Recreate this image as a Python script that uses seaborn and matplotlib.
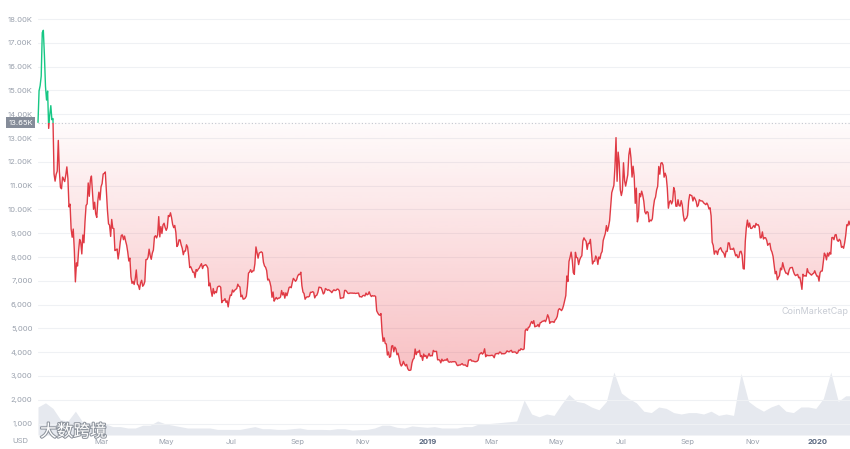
import numpy as np
import pandas as pd
import matplotlib
matplotlib.use("Agg")
import matplotlib.pyplot as plt
import matplotlib.dates as mdates
import matplotlib.patheffects as pe
from matplotlib.patches import PathPatch, Rectangle
import seaborn as sns

# BTC daily close (USD)
price_2018 = [
    13657, 14982, 15201, 15599, 17429, 17527, 16477, 15170, 14595, 14973, 13405, 13980, 14360, 13772, 13819, 11490,
    11188, 11474, 11607, 12899, 11601, 10931, 10868, 11359, 11259, 11171, 11441, 11787, 11296, 10106, 10221,
    9170, 8830, 9174, 8277, 6955, 7754, 7621, 8265, 8736, 8621, 8129, 8926, 8598, 9494, 10166, 10233, 11112,
    10551, 11225, 11403, 10690, 10005, 10301, 9813, 9664, 10366, 10725, 10397,
    10951, 11086, 11489, 11512, 11573, 10779, 9965, 9395, 9337, 8866, 9578, 9205, 9194, 8269, 8300, 8338, 7916,
    8223, 8630, 8913, 8929, 8728, 8879, 8668, 8495, 8209, 7833, 7954, 7165, 6891, 6973,
    6845, 7083, 7456, 6854, 6811, 6636, 6911, 7023, 6770, 6834, 6968, 7889, 7895, 7986, 8329, 8058, 7902, 8163,
    8294, 8845, 8895, 8802, 8930, 9697, 8845, 9281, 8987, 9348, 9419, 9240,
    9119, 9235, 9744, 9700, 9858, 9654, 9373, 9234, 9325, 9043, 8441, 8505, 8723, 8716, 8510, 8368, 8095, 8250,
    8248, 8513, 8418, 8041, 7557, 7587, 7480, 7355, 7368, 7135, 7472, 7406, 7494,
    7541, 7643, 7720, 7514, 7633, 7653, 7678, 7624, 7531, 6786, 6906, 6582, 6349, 6675, 6456, 6550, 6500, 6734,
    6769, 6776, 6729, 6083, 6162, 6174, 6249, 6093, 6157, 5903, 6218, 6404,
    6385, 6614, 6529, 6597, 6639, 6673, 6857, 6773, 6741, 6329, 6394, 6228, 6239, 6276, 6359, 6741, 7321, 7370,
    7466, 7354, 7419, 7418, 7711, 8424, 8181, 7951, 8165, 8192, 8218, 8180, 7780,
    7624, 7567, 7434, 7032, 7068, 6951, 6753, 6306, 6529, 6144, 6232, 6301, 6230, 6274, 6275, 6322, 6592, 6405,
    6502, 6270, 6492, 6373, 6535, 6719, 6743, 6707, 6927, 7102, 7047, 6978, 7037,
    7193, 7272, 7260, 7361, 6793, 6529, 6467, 6225, 6300, 6329, 6321, 6351, 6517, 6512, 6543, 6517, 6281, 6371,
    6398, 6519, 6734, 6721, 6710, 6595, 6446, 6495, 6676, 6644, 6601, 6625,
    6589, 6556, 6502, 6576, 6622, 6588, 6602, 6653, 6642, 6585, 6256, 6274, 6285, 6290, 6596, 6596, 6544, 6476,
    6465, 6489, 6482, 6487, 6475, 6484, 6468, 6472, 6480, 6486, 6332, 6334, 6317,
    6377, 6389, 6361, 6485, 6411, 6436, 6538, 6410, 6339, 6376, 6359, 6371, 6339, 5738, 5649, 5575, 5554, 5624,
    4871, 4451, 4602, 4365, 4347, 3880, 4009, 3779, 3820, 4257, 4278, 4017,
    4214, 4139, 3894, 3956, 3753, 3521, 3419, 3476, 3614, 3502, 3424, 3486, 3313, 3242, 3236, 3252, 3545, 3696,
    3745, 4134, 3896, 4014, 3998, 4078, 3815, 3857, 3654, 3923, 3820, 3865, 3742,
]
price_2019 = [
    3843, 3943, 3837, 3858, 3846, 4076, 4025, 4030, 4035, 3678, 3687, 3661, 3553, 3706, 3630, 3655, 3678, 3658,
    3728, 3601, 3577, 3598, 3583, 3600, 3599, 3603, 3583, 3468, 3434, 3463, 3458,
    3487, 3521, 3464, 3459, 3466, 3413, 3399, 3666, 3673, 3690, 3625, 3632, 3616, 3599, 3602, 3618, 3667, 3899,
    3941, 3985, 3917, 3977, 4143, 3810, 3883, 3854, 3859, 3855,
    3862, 3873, 3843, 3767, 3924, 3935, 3949, 3927, 4003, 3998, 3926, 3943, 3932, 3943, 3983, 4057, 4026, 4013,
    4055, 4079, 3992, 4006, 4011, 4002, 3947, 3972, 4087, 4068, 4147, 4117, 4106,
    4140, 4902, 4978, 4913, 5045, 5060, 5198, 5290, 5207, 5325, 5064, 5089, 5096, 5167, 5067, 5236, 5251, 5298,
    5303, 5338, 5281, 5399, 5573, 5464, 5210, 5280, 5268, 5285, 5248, 5351,
    5402, 5505, 5768, 5831, 5795, 5747, 5830, 5982, 6175, 6379, 7204, 6972, 7815, 7994, 8206, 7884, 7344, 7271,
    8198, 7979, 7963, 7681, 7881, 7987, 8052, 8673, 8805, 8719, 8659, 8320, 8575,
    8564, 8742, 8209, 7707, 7824, 7822, 8043, 7954, 7688, 8000, 7927, 8145, 8231, 8693, 8838, 8994, 9320, 9082,
    9274, 9527, 10144, 10701, 10855, 11011, 11790, 13017, 11182, 12407, 11959, 10817,
    10583, 10801, 11961, 11216, 10979, 11208, 11450, 12285, 12573, 12156, 11358, 11815, 11392, 10256, 10895, 9477,
    9693, 10666, 10530, 10767, 10599, 10343, 9900, 9811, 9911, 9870, 9477, 9552, 9519, 9607, 10085,
    10399, 10518, 10821, 10970, 11805, 11479, 11941, 11966, 11862, 11354, 11523, 11382, 10895, 10051, 10311, 10374,
    10231, 10345, 10918, 10764, 10138, 10131, 10407, 10160, 10139, 10370, 10185, 9754, 9510, 9598, 9630,
    9757, 10346, 10623, 10594, 10575, 10353, 10517, 10441, 10334, 10115, 10178, 10410, 10360, 10358, 10347, 10276,
    10241, 10199, 10267, 10181, 10019, 10070, 9729, 8620, 8486, 8118, 8251, 8245, 8104, 8294,
    8343, 8393, 8260, 8205, 8151, 7989, 8245, 8229, 8596, 8586, 8321, 8336, 8321, 8374, 8205, 8047, 8103, 7973,
    7988, 8222, 8243, 8078, 7514, 7493, 8660, 9244, 9551, 9256, 9427, 9205, 9199,
    9261, 9324, 9235, 9412, 9342, 9360, 9267, 8804, 8813, 9055, 8757, 8815, 8808, 8708, 8491, 8550, 8577, 8309,
    8206, 8027, 7642, 7296, 7397, 7047, 7146, 7218, 7531, 7463, 7761, 7569,
    7424, 7321, 7320, 7252, 7448, 7546, 7556, 7564, 7400, 7278, 7217, 7243, 7269, 7124, 7152, 6932, 6640, 7276,
    7202, 7219, 7191, 7511, 7355, 7322, 7275, 7238, 7290, 7317, 7422, 7292, 7194,
]
price_2020 = [
    7200, 6985, 7345, 7411, 7411, 7769, 8163, 8080, 7880, 8166, 8038, 8193, 8119, 8813, 8822, 8726, 8929, 8942,
    8707, 8657, 8745, 8681, 8407, 8445, 8368, 8597, 8910, 9358, 9316, 9508, 9350,
]

# weekly volume (billion USD), weeks starting 2018-01-01
volume_2018 = [20, 23, 19, 11, 10, 17, 9, 9, 7, 8, 6, 6, 5, 5, 7, 7, 10, 8, 7, 6, 5, 5, 5, 5, 4, 4, 4, 4, 5, 6,
               4.5, 4.5, 4, 4, 4.5, 5, 4, 4, 4, 3.8, 4.5, 4.5, 3.5, 3.8, 4, 5, 7, 7, 5.5, 5, 6.5, 6, 5.5]
volume_2019 = [6, 5, 5, 5, 6, 6, 8, 8, 8.5, 9, 9.5, 10, 25, 15, 13, 15, 14, 22, 29, 24, 23, 20, 18, 24, 45, 30,
               26, 23, 17, 16, 20, 19, 16, 15, 16, 16, 15, 17, 14, 15, 14, 44, 24, 20, 17, 20, 22, 17, 16, 20, 20, 19]
volume_2020 = [26, 45, 24, 28, 28]

base_price = 13650
y_ticks = list(range(1000, 19000, 1000))
x_ticks = pd.date_range("2018-03-01", "2020-01-01", freq="2MS")

RED = "#e03a44"
GREEN = "#16c784"
GRAY = "#9aa1ad"

price = np.array(price_2018 + price_2019 + price_2020, dtype=float)
dates = pd.date_range("2018-01-01", periods=len(price), freq="D")
volume = np.array(volume_2018 + volume_2019 + volume_2020, dtype=float)
vol_dates = pd.date_range("2018-01-01", periods=len(volume), freq="7D")
df = pd.DataFrame({"date": dates, "price": price})

sns.set_theme(style="white")
plt.rcParams["font.family"] = ["Inter", "Noto Sans CJK SC", "DejaVu Sans"]

fig = plt.figure(figsize=(8.5, 4.49), dpi=100)
ax = fig.add_axes([38 / 850, 14 / 449, 812 / 850, 425 / 449])
ax2 = ax.twinx()
ax.set_zorder(2)
ax2.set_zorder(1)
ax.patch.set_visible(False)

ymin, ymax = 520, 18380
x0, x1 = mdates.date2num(dates[0]), mdates.date2num(pd.Timestamp("2020-01-31"))

# volume area
ax2.fill_between(vol_dates, volume, 0, color="#e6e9ef", lw=0)
ax2.set_ylim(0, 45 * 425 / 63)
ax2.axis("off")

# gradient fill between the price and the reference line
lower = np.minimum(price, base_price)
poly = ax.fill_between(dates, lower, base_price, color="none", lw=0)
clip = PathPatch(poly.get_paths()[0], transform=ax.transData, facecolor="none", edgecolor="none")
ax.add_patch(clip)
yy = np.linspace(ymin, base_price, 256)
alpha = np.clip(0.02 + 0.30 * (base_price - yy) / (base_price - 3000), 0, 0.4)
rgb = matplotlib.colors.to_rgb("#ea3943")
grad = np.zeros((256, 1, 4))
grad[:, 0, :3] = rgb
grad[:, 0, 3] = alpha
im = ax.imshow(grad, extent=[x0, x1 + 2, ymin, base_price], origin="lower", aspect="auto", zorder=1)
im.set_clip_path(clip)

# price line, red below / green above the reference
sns.lineplot(data=df, x="date", y="price", color=RED, lw=1.0, estimator=None, sort=False, ax=ax, zorder=3)
red_line = ax.lines[-1]
sns.lineplot(data=df, x="date", y="price", color=GREEN, lw=1.0, estimator=None, sort=False, ax=ax, zorder=3)
green_line = ax.lines[-1]
red_line.set_clip_path(Rectangle((x0 - 50, ymin - 5000), 2000, base_price - ymin + 5000, transform=ax.transData))
green_line.set_clip_path(Rectangle((x0 - 50, base_price), 2000, 20000, transform=ax.transData))

ax.axhline(base_price, color="#c3c8d0", lw=0.8, ls=(0, (1, 2)), zorder=2)

ax.set_xlim(x0, x1)
ax.set_ylim(ymin, ymax)
ax.set_xlabel("")
ax.set_ylabel("")

ax.set_yticks(y_ticks)
ax.set_yticklabels([f"{v / 1000:.2f}K" if v >= 10000 else f"{v:,}" for v in y_ticks])
ax.yaxis.grid(True, color="#eff1f4", lw=0.8)
ax.xaxis.grid(False)
ax.set_xticks(x_ticks)
ax.set_xticklabels([str(d.year) if d.month == 1 else d.strftime("%b") for d in x_ticks])
ax.tick_params(axis="both", length=0, labelsize=5.5, labelcolor=GRAY)
ax.tick_params(axis="y", pad=4)
ax.tick_params(axis="x", pad=3)
for lab in ax.get_xticklabels():
    if lab.get_text().isdigit():
        lab.set_color("#58667e")
        lab.set_fontweight("bold")
for s in ax.spines.values():
    s.set_visible(False)

# reference price tag
ax.text(-0.006, base_price, "13.65K", transform=ax.get_yaxis_transform(), ha="right", va="center",
        fontsize=5.5, color="white", bbox=dict(boxstyle="square,pad=0.3", fc="#858c99", ec="none"))

fig.text(20 / 850, 1 - 441 / 449, "USD", ha="center", va="center", fontsize=5.5, color=GRAY)

# watermarks
fig.text(848 / 850, 1 - 311 / 449, "CoinMarketCap", ha="right", va="center", fontsize=6.5, color="#c8ccd4")
fig.text(40 / 850, 1 - 432 / 449, "大数跨境", ha="left", va="center", fontsize=12,
         family=["Noto Sans CJK SC", "DejaVu Sans"], color="white",
         path_effects=[pe.withStroke(linewidth=1.5, foreground="#8f959e")])

fig.savefig("out.png", dpi=100)
